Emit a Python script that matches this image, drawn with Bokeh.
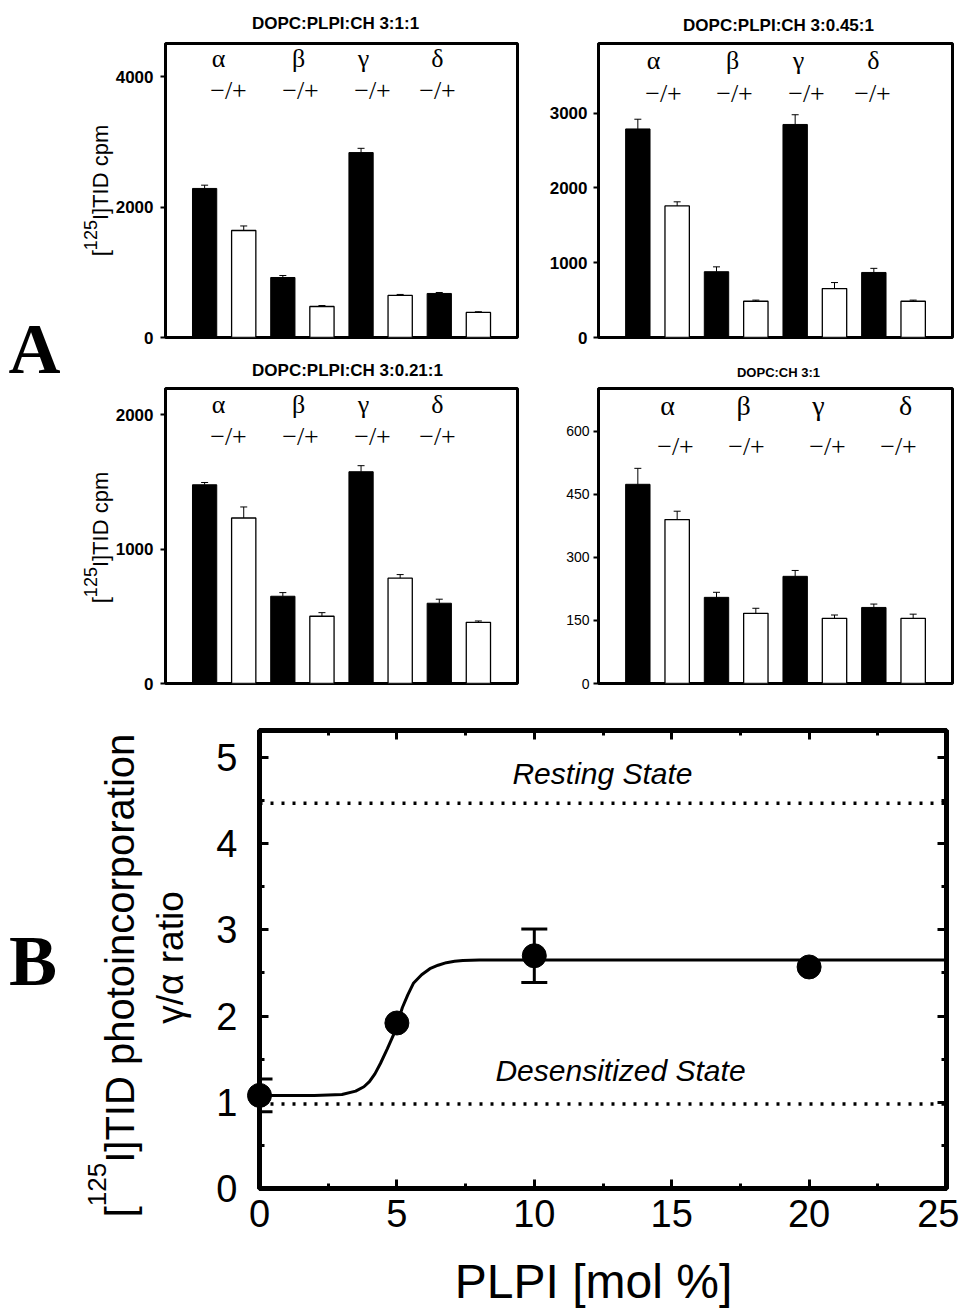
import math
from bokeh.plotting import figure
from bokeh.models import (ColumnDataSource, Range1d, FixedTicker, LinearAxis,
                          Whisker, TeeHead, Span)
from bokeh.layouts import row, column
from bokeh.embed import file_html
from bokeh.resources import INLINE
from bokeh.core.properties import value

# ---------------- data: panel A (bar charts) ----------------
subunits = ["α", "β", "γ", "δ"]
condition_label = "−/+"
a_titles = ["DOPC:PLPI:CH 3:1:1", "DOPC:PLPI:CH 3:0.45:1",
            "DOPC:PLPI:CH 3:0.21:1", "DOPC:CH 3:1"]
a_ylabel = ["[", "125", "I]TID cpm"]

a1_minus = [2285, 920, 2835, 675]
a1_minus_err = [50, 30, 65, 15]
a1_plus = [1640, 475, 645, 385]
a1_plus_err = [70, 15, 15, 10]
a1_ticks = [0, 2000, 4000]
a1_ymax = 4507

a2_minus = [2790, 880, 2850, 870]
a2_minus_err = [130, 65, 130, 55]
a2_plus = [1760, 485, 655, 485]
a2_plus_err = [55, 15, 80, 15]
a2_ticks = [0, 1000, 2000, 3000]
a2_ymax = 3933

a3_minus = [1478, 649, 1575, 597]
a3_minus_err = [17, 27, 45, 30]
a3_plus = [1231, 500, 783, 455]
a3_plus_err = [82, 27, 27, 10]
a3_ticks = [0, 1000, 2000]
a3_ymax = 2194

a4_minus = [474, 205, 255, 181]
a4_minus_err = [38, 12, 14, 8]
a4_plus = [390, 167, 155, 155]
a4_plus_err = [20, 12, 8, 10]
a4_ticks = [0, 150, 300, 450, 600]
a4_ymax = 702

# ---------------- data: panel B ----------------
plpi = [0, 5, 10, 20]
ratio = [1.08, 1.92, 2.70, 2.57]
ratio_err = [0.19, 0.0, 0.31, 0.0]
fit_plpi = [0, 1, 2, 3, 3.5, 3.8, 4.0, 4.2, 4.4, 4.65, 4.9, 5.2, 5.4, 5.6,
            5.9, 6.2, 6.5, 6.8, 7.1, 7.4, 8, 10, 15, 20, 25]
fit_ratio = [1.08, 1.08, 1.08, 1.09, 1.13, 1.18, 1.24, 1.33, 1.45, 1.62, 1.80,
             2.10, 2.25, 2.38, 2.48, 2.55, 2.59, 2.62, 2.635, 2.645, 2.65,
             2.65, 2.65, 2.65, 2.65]
state_levels = [4.47, 0.98]
state_names = ["Resting State", "Desensitized State"]
b_xticks = [0, 5, 10, 15, 20, 25]
b_xminor = [2.5, 7.5, 12.5, 17.5, 22.5]
b_yticks = [0, 1, 2, 3, 4, 5]
b_yminor = [0.5, 1.5, 2.5, 3.5, 4.5]
b_xmax = 25
b_ymax = 5.313
b_xlabel = "PLPI [mol %]"
b_ylabel = ["[", "125", "I]TID photoincorporation"]
b_ylabel2 = "γ/α ratio"
panel_letters = ["A", "B"]

SANS = "Liberation Sans"
SERIF = "Liberation Serif"

CHAR_W = {"[": 0.278, "]": 0.278, " ": 0.278, "I": 0.278, "T": 0.611, "D": 0.722,
          "c": 0.5, "p": 0.556, "m": 0.833, "h": 0.556, "o": 0.556, "t": 0.278,
          "i": 0.222, "n": 0.556, "r": 0.333, "a": 0.556}


def text_w(s, size):
    return sum(CHAR_W.get(ch, 0.556) for ch in s) * size


def put_text(p, x, y, txt, font=SANS, size="16px", style="normal", align="center",
             baseline="middle", angle=0.0):
    p.text(x=[x], y=[y], text=[txt], text_font=value(font), text_font_size=size,
           text_font_style=style, text_align=align, text_baseline=baseline,
           angle=angle, text_color="black", level="overlay")


def rotated_super_label(p, xd, yd, parts, sizes, mids, center_py):
    total = sum(text_w(t, s) for t, s in zip(parts, sizes))
    py = center_py + total / 2.0
    for t, s, m in zip(parts, sizes, mids):
        put_text(p, xd(m), yd(py), t, size=f"{s}px", align="left",
                 baseline="middle", angle=math.pi / 2)
        py -= text_w(t, s)


def bar_panel(minus, minus_err, plus, plus_err, ticks, ymax, title, g):
    fl, fr, ft, fb = g["frame"]
    p = figure(width=g["w"], height=g["h"], x_range=Range1d(0, 9),
               y_range=Range1d(0, ymax),
               min_border_left=fl - g["x0"], min_border_right=g["x0"] + g["w"] - fr,
               min_border_top=ft - g["y0"], min_border_bottom=g["y0"] + g["h"] - fb,
               x_axis_location=None, output_backend="svg", toolbar_location=None)
    p.grid.visible = False
    p.outline_line_color = "black"
    p.outline_line_width = 3
    p.background_fill_color = "white"
    p.border_fill_color = "white"

    def xd(px):
        return (px - fl) / (fr - fl) * 9.0

    def yd(py):
        return (fb - py) / (fb - ft) * ymax

    n = len(minus)
    xs_minus = [2 * i + 1 for i in range(n)]
    xs_plus = [2 * i + 2 for i in range(n)]
    p.vbar(x=xs_minus, top=minus, width=0.62, fill_color="black", line_color="black")
    p.vbar(x=xs_plus, top=plus, width=0.62, fill_color="white", line_color="black",
           line_width=1.3)
    src = ColumnDataSource(dict(
        x=xs_minus + xs_plus,
        lower=minus + plus,
        upper=[v + e for v, e in zip(minus, minus_err)] + [v + e for v, e in zip(plus, plus_err)]))
    p.add_layout(Whisker(source=src, base="x", lower="lower", upper="upper",
                         line_color="black", line_width=1,
                         upper_head=TeeHead(size=7, line_width=1, line_color="black"),
                         lower_head=None))

    p.text(x=[xd(v) for v in g["greek_px"]], y=[yd(g["greek_py"])] * n, text=subunits,
           text_font=value(SERIF), text_font_size=g["greek_fs"], text_align="center",
           text_baseline="middle", text_color="black")
    p.text(x=[xd(v) for v in g["pm_px"]], y=[yd(g["pm_py"])] * n, text=[condition_label] * n,
           text_font=value(SERIF), text_font_size="26px", text_align="center",
           text_baseline="middle", text_color="black")

    put_text(p, xd(g["title_px"]), yd(g["title_py"]), title, size=g["title_fs"],
             style="bold")

    ax = p.yaxis[0]
    ax.ticker = FixedTicker(ticks=ticks)
    ax.minor_tick_line_color = None
    ax.major_tick_in = 0
    ax.major_tick_out = 5
    ax.major_tick_line_width = 2
    ax.axis_line_width = 3
    ax.major_label_text_font = SANS
    ax.major_label_text_font_size = g["tick_fs"]
    ax.major_label_text_font_style = g["tick_style"]
    ax.major_label_text_color = "black"
    ax.major_label_standoff = g["standoff"]

    if g.get("ylabel_center") is not None:
        rotated_super_label(p, xd, yd, a_ylabel, [22, 18, 22], [100, 90, 100],
                            g["ylabel_center"])
    return p


g1 = dict(x0=70, y0=0, w=470, h=350, frame=(165, 517, 43, 337),
          title_px=335, title_py=23, title_fs="17px",
          greek_px=[218, 298, 363, 437], greek_py=58, greek_fs="26px",
          pm_px=[228, 300, 372, 437], pm_py=90,
          tick_fs="17px", tick_style="bold", standoff=7, ylabel_center=190)
g2 = dict(x0=540, y0=0, w=419, h=350, frame=(598, 952, 43, 337),
          title_px=778, title_py=25, title_fs="17px",
          greek_px=[653, 732, 798, 873], greek_py=60, greek_fs="26px",
          pm_px=[663, 734, 806, 872], pm_py=93,
          tick_fs="17px", tick_style="bold", standoff=6, ylabel_center=None)
g3 = dict(x0=70, y0=350, w=470, h=350, frame=(165, 517, 388, 683),
          title_px=347, title_py=370, title_fs="17px",
          greek_px=[218, 298, 363, 437], greek_py=404, greek_fs="26px",
          pm_px=[228, 300, 372, 437], pm_py=436,
          tick_fs="17px", tick_style="bold", standoff=7, ylabel_center=537)
g4 = dict(x0=540, y0=350, w=419, h=350, frame=(598, 952, 388, 683),
          title_px=778, title_py=372, title_fs="13px",
          greek_px=[667, 743, 818, 905], greek_py=405, greek_fs="28px",
          pm_px=[675, 746, 827, 898], pm_py=446,
          tick_fs="14px", tick_style="normal", standoff=4, ylabel_center=None)

a1 = bar_panel(a1_minus, a1_minus_err, a1_plus, a1_plus_err, a1_ticks, a1_ymax, a_titles[0], g1)
a2 = bar_panel(a2_minus, a2_minus_err, a2_plus, a2_plus_err, a2_ticks, a2_ymax, a_titles[1], g2)
a3 = bar_panel(a3_minus, a3_minus_err, a3_plus, a3_plus_err, a3_ticks, a3_ymax, a_titles[2], g3)
a4 = bar_panel(a4_minus, a4_minus_err, a4_plus, a4_plus_err, a4_ticks, a4_ymax, a_titles[3], g4)

# ---------------- panel B ----------------
bx0, by0, bw, bh = 70, 700, 889, 609
bfl, bfr, bft, bfb = 259, 946, 730, 1188
pb = figure(width=bw, height=bh, x_range=Range1d(0, b_xmax), y_range=Range1d(0, b_ymax),
            min_border_left=bfl - bx0, min_border_right=bx0 + bw - bfr,
            min_border_top=bft - by0, min_border_bottom=by0 + bh - bfb,
            output_backend="svg", toolbar_location=None)
pb.grid.visible = False
pb.outline_line_color = "black"
pb.outline_line_width = 5
pb.background_fill_color = "white"
pb.border_fill_color = "white"


def bxd(px):
    return (px - bfl) / (bfr - bfl) * b_xmax


def byd(py):
    return (bfb - py) / (bfb - bft) * b_ymax


def style_b_axis(ax, ticks, minor, show, standoff):
    ax.ticker = FixedTicker(ticks=ticks, minor_ticks=minor)
    ax.axis_line_width = 5
    ax.axis_line_color = "black"
    ax.major_tick_in = 9
    ax.major_tick_out = 0
    ax.minor_tick_in = 5
    ax.minor_tick_out = 0
    ax.major_tick_line_width = 3
    ax.minor_tick_line_width = 3
    ax.major_tick_line_color = "black"
    ax.minor_tick_line_color = "black"
    if show:
        ax.major_label_text_font = SANS
        ax.major_label_text_font_size = "38px"
        ax.major_label_text_color = "black"
        ax.major_label_standoff = standoff
    else:
        ax.major_label_text_color = None
        ax.major_label_text_font_size = "1px"
        ax.major_label_standoff = 0


style_b_axis(pb.xaxis[0], b_xticks, b_xminor, True, 11)
style_b_axis(pb.yaxis[0], b_yticks, b_yminor, True, 22)
top_ax = LinearAxis()
right_ax = LinearAxis()
style_b_axis(top_ax, b_xticks, b_xminor, False, 0)
style_b_axis(right_ax, b_yticks, b_yminor, False, 0)
pb.add_layout(top_ax, "above")
pb.add_layout(right_ax, "right")

for lvl in state_levels:
    pb.add_layout(Span(location=lvl, dimension="width", line_color="black",
                       line_width=3.5, line_dash="3 8"))

pb.line(fit_plpi, fit_ratio, line_width=3, line_color="black")
err_idx = [i for i, e in enumerate(ratio_err) if e > 0]
bsrc = ColumnDataSource(dict(x=[plpi[i] for i in err_idx],
                             lower=[ratio[i] - ratio_err[i] for i in err_idx],
                             upper=[ratio[i] + ratio_err[i] for i in err_idx]))
pb.add_layout(Whisker(source=bsrc, base="x", lower="lower", upper="upper",
                      line_color="black", line_width=3, level="overlay",
                      upper_head=TeeHead(size=26, line_width=3, line_color="black"),
                      lower_head=TeeHead(size=26, line_width=3, line_color="black")))
pb.scatter(plpi, ratio, size=24, fill_color="black", line_color="black", level="overlay")

state_px = [(602, 773, "30px"), (620, 1070, "30px")]
for name, (sx, sy, fs) in zip(state_names, state_px):
    put_text(pb, bxd(sx), byd(sy), name, size=fs, style="italic")

put_text(pb, bxd(593), byd(1281), b_xlabel, size="48px")
rotated_super_label(pb, bxd, byd, b_ylabel, [40, 26, 40], [119, 96, 119], 975)
put_text(pb, bxd(170), byd(957), b_ylabel2, size="37px", angle=math.pi / 2)

# ---------------- letters strip ----------------
strip = figure(width=70, height=1309, x_range=Range1d(0, 70), y_range=Range1d(1309, 0),
               min_border=0, x_axis_location=None, y_axis_location=None,
               output_backend="svg", toolbar_location=None)
strip.grid.visible = False
strip.outline_line_color = None
strip.text(x=[34, 32.5], y=[348, 960], text=panel_letters, text_font=value(SERIF),
           text_font_style="bold", text_font_size="72px", text_align="center",
           text_baseline="middle", text_color="black")

layout = row(strip, column(row(a1, a2), row(a3, a4), pb))

with open("out.html", "w") as f:
    f.write(file_html(layout, INLINE))
